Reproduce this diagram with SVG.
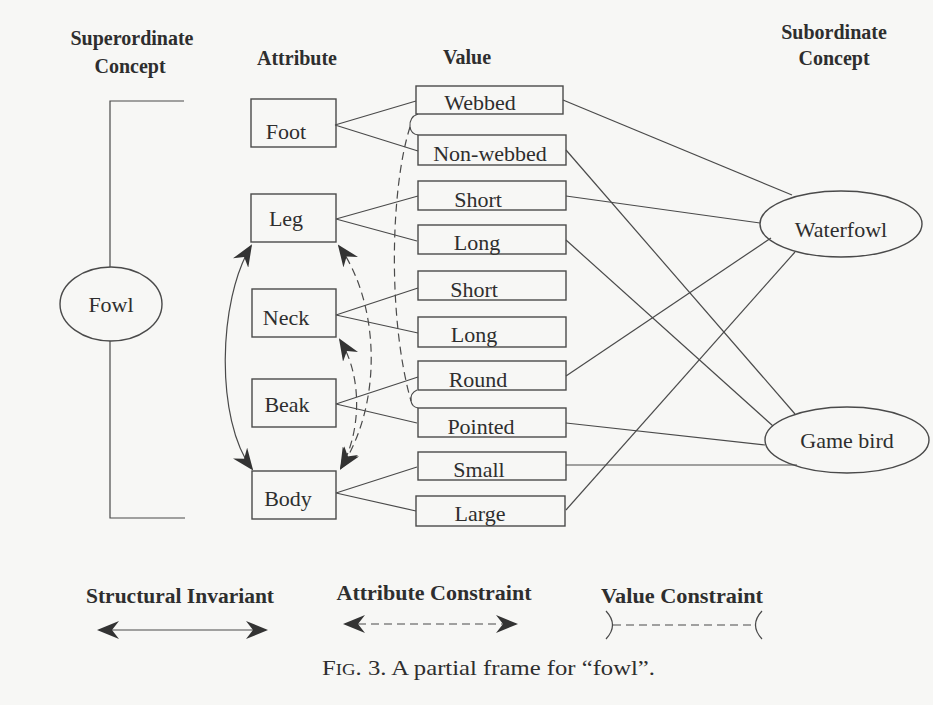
<svg xmlns="http://www.w3.org/2000/svg" width="933" height="705" viewBox="0 0 933 705">
<defs>
<marker id="ah" viewBox="0 0 22 18" refX="20" refY="9" markerWidth="22" markerHeight="18" markerUnits="userSpaceOnUse" orient="auto-start-reverse">
<path d="M0,0 L22,9 L0,18 L7,9 Z" fill="#333" stroke="none"/>
</marker>
<style>
.box{fill:none;stroke:#4a4a4a;stroke-width:1.4}
.ln{fill:none;stroke:#4a4a4a;stroke-width:1.2}
.ds{fill:none;stroke:#4a4a4a;stroke-width:1.2;stroke-dasharray:8 5}
.lbl{font-family:"Liberation Serif","Times New Roman",serif;font-size:22px;fill:#2e2e2e;text-anchor:middle}
.hd{font-family:"Liberation Serif","Times New Roman",serif;font-size:20px;font-weight:bold;fill:#2e2e2e;text-anchor:middle}
.cap{font-family:"Liberation Serif","Times New Roman",serif;font-size:21px;fill:#2e2e2e}
</style>
</defs>
<rect width="933" height="705" fill="#f7f7f5"/>

<g id="headers">
<text class="hd" x="132" y="45">Superordinate</text>
<text class="hd" x="130" y="73">Concept</text>
<text class="hd" x="297" y="65">Attribute</text>
<text class="hd" x="467" y="64">Value</text>
<text class="hd" x="834" y="39">Subordinate</text>
<text class="hd" x="834" y="65">Concept</text>
</g>

<g id="connectors">
<path class="ln" d="M184,101 L110,101 L110,267 M110,341 L110,518 L185,518"/>
<path class="ln" d="M335,125 L416,101 M335,125 L418,151"/>
<path class="ln" d="M336,219 L418,196 M336,219 L417,241"/>
<path class="ln" d="M336,315 L418,288 M336,315 L418,333"/>
<path class="ln" d="M336,404 L418,377 M336,404 L417,423"/>
<path class="ln" d="M336,493 L417,467 M336,493 L416,511"/>
<path class="ln" d="M563,100 L792,195"/>
<path class="ln" d="M566,150 L795,414"/>
<path class="ln" d="M566,196 L760,223"/>
<path class="ln" d="M566,240 L773,426"/>
<path class="ln" d="M566,376 L771,238"/>
<path class="ln" d="M566,423 L765,445"/>
<path class="ln" d="M566,465 L797,465"/>
<path class="ln" d="M566,510 L795,252"/>
<path class="ln" d="M418,114 Q409,117 410,127 Q411,134 418,135"/>
<path class="ds" d="M410,127 C390,190 388,320 411,401"/>
<path class="ln" d="M417,390 Q410,393 411,401 Q412,407 418,408"/>
<path class="ds" marker-start="url(#ah)" marker-end="url(#ah)" d="M339,246 C378,300 385,400 341,468"/>
<path class="ds" marker-start="url(#ah)" marker-end="url(#ah)" d="M340,340 C362,375 362,430 341,468"/>
<path class="ln" marker-start="url(#ah)" marker-end="url(#ah)" d="M251,246 C218,300 215,420 252,469"/>
</g>

<g id="fowl"><ellipse class="box" cx="111" cy="304" rx="51" ry="37"/><text class="lbl" x="111" y="312">Fowl</text></g>

<g id="foot"><rect class="box" x="251" y="99" width="85" height="48"/><text class="lbl" x="286" y="139">Foot</text></g>
<g id="leg"><rect class="box" x="251" y="194" width="85" height="48"/><text class="lbl" x="286" y="226">Leg</text></g>
<g id="neck"><rect class="box" x="252" y="289" width="84" height="48"/><text class="lbl" x="286" y="325">Neck</text></g>
<g id="beak"><rect class="box" x="252" y="379" width="84" height="48"/><text class="lbl" x="287" y="412">Beak</text></g>
<g id="body"><rect class="box" x="252" y="471" width="84" height="48"/><text class="lbl" x="288" y="506">Body</text></g>

<g id="webbed"><rect class="box" x="416" y="86" width="147" height="28"/><text class="lbl" x="480" y="110">Webbed</text></g>
<g id="nonwebbed"><rect class="box" x="418" y="135" width="148" height="30"/><text class="lbl" x="490" y="161">Non-webbed</text></g>
<g id="short1"><rect class="box" x="418" y="181" width="148" height="29"/><text class="lbl" x="478" y="207">Short</text></g>
<g id="long1"><rect class="box" x="418" y="225" width="148" height="29"/><text class="lbl" x="477" y="250">Long</text></g>
<g id="short2"><rect class="box" x="418" y="271" width="148" height="29"/><text class="lbl" x="474" y="297">Short</text></g>
<g id="long2"><rect class="box" x="418" y="317" width="148" height="30"/><text class="lbl" x="474" y="342">Long</text></g>
<g id="round"><rect class="box" x="418" y="361" width="148" height="29"/><text class="lbl" x="478" y="387">Round</text></g>
<g id="pointed"><rect class="box" x="418" y="408" width="148" height="29"/><text class="lbl" x="481" y="434">Pointed</text></g>
<g id="small"><rect class="box" x="418" y="452" width="148" height="28"/><text class="lbl" x="479" y="477">Small</text></g>
<g id="large"><rect class="box" x="416" y="496" width="149" height="30"/><text class="lbl" x="480" y="521">Large</text></g>

<g id="waterfowl"><ellipse class="box" cx="841" cy="224" rx="81" ry="33"/><text class="lbl" x="841" y="237">Waterfowl</text></g>
<g id="gamebird"><ellipse class="box" cx="847" cy="440" rx="82" ry="33"/><text class="lbl" x="847" y="448">Game bird</text></g>

<g id="legend">
<text class="hd" x="180" y="603" textLength="188" lengthAdjust="spacingAndGlyphs">Structural Invariant</text>
<text class="hd" x="434" y="600" textLength="195" lengthAdjust="spacingAndGlyphs">Attribute Constraint</text>
<text class="hd" x="682" y="603" textLength="162" lengthAdjust="spacingAndGlyphs">Value Constraint</text>
<path class="ln" marker-start="url(#ah)" marker-end="url(#ah)" d="M99,630 L266,630"/>
<path class="ds" marker-start="url(#ah)" marker-end="url(#ah)" d="M345,624 L516,624"/>
<path class="ln" d="M606,611 Q619,625 606,639"/>
<path class="ds" d="M613,625 L754,625"/>
<path class="ln" d="M762,611 Q749,625 762,639"/>
</g>

<text class="cap" x="322" y="675" textLength="333" lengthAdjust="spacingAndGlyphs">F<tspan font-size="16">IG</tspan>. 3.  A partial frame for “fowl”.</text>
</svg>
